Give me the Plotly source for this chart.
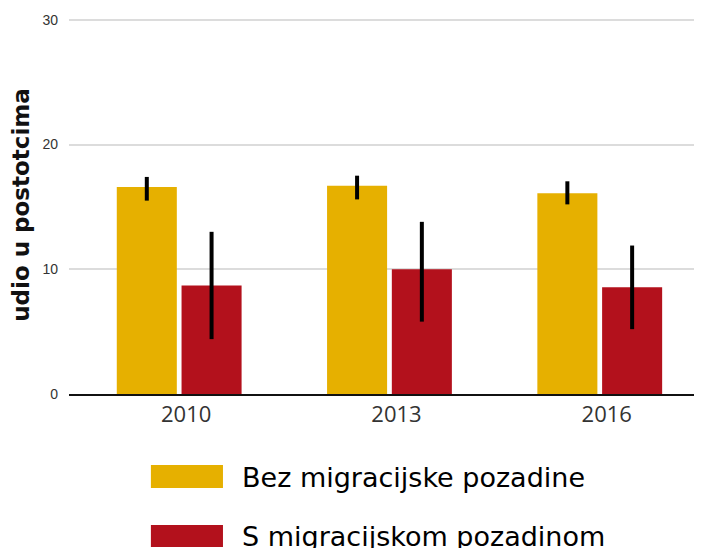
import plotly.graph_objects as go

years = ["2010", "2013", "2016"]
bez_values = [16.6, 16.7, 16.1]
bez_low = [15.5, 15.6, 15.2]
bez_high = [17.4, 17.5, 17.05]
s_values = [8.7, 10.0, 8.55]
s_low = [4.4, 5.8, 5.2]
s_high = [13.0, 13.8, 11.9]
series_names = ["Bez migracijske pozadine", "S migracijskom pozadinom"]
series_colors = ["#E6B000", "#B3111C"]


def make_bar(name, values, low, high, color):
    return go.Bar(
        x=years,
        y=values,
        name=name,
        marker_color=color,
        marker_line_width=0,
        error_y=dict(
            type="data",
            symmetric=False,
            array=[h - v for h, v in zip(high, values)],
            arrayminus=[v - l for v, l in zip(values, low)],
            color="black",
            thickness=4,
            width=0,
        ),
        showlegend=False,
    )


fig = go.Figure(
    data=[
        make_bar(series_names[0], bez_values, bez_low, bez_high, series_colors[0]),
        make_bar(series_names[1], s_values, s_low, s_high, series_colors[1]),
    ]
)

# the page body adds an 8px margin, so the figure is 8px smaller each way
fig.update_layout(
    width=694,
    height=540,
    margin=dict(l=61, r=3, t=8, b=154),
    paper_bgcolor="white",
    plot_bgcolor="white",
    barmode="group",
    bargap=0.384,
    bargroupgap=0.073,
    font=dict(family="Liberation Sans, Arial, sans-serif", color="#222"),
)

fig.update_xaxes(
    type="category",
    range=[-0.524, 2.472],
    showline=True,
    linecolor="#111",
    linewidth=2,
    showgrid=False,
    ticks="",
    ticklabelshift=7,
    tickfont=dict(family="Open Sans, sans-serif", size=22, color="#333"),
)

fig.update_yaxes(
    range=[0, 30.3],
    tickvals=[0, 10, 20, 30],
    showgrid=True,
    gridcolor="#dcdcdc",
    gridwidth=2,
    zeroline=False,
    showline=False,
    ticks="",
    ticklabelstandoff=10,
    tickfont=dict(size=14, color="#333"),
    title=dict(
        text="<b>udio u postotcima</b>",
        font=dict(family="DejaVu Sans, sans-serif", size=23, color="#111"),
        standoff=8,
    ),
)

# legend drawn below the plot with wide colour swatches
legend_rows = [(-0.2487, -0.1878, -0.2196), (-0.4048, -0.3466, -0.3757)]
for name, color, (y0, y1, ytext) in zip(series_names, series_colors, legend_rows):
    fig.add_shape(
        type="rect",
        xref="paper",
        yref="paper",
        x0=0.130,
        x1=0.2444,
        y0=y0,
        y1=y1,
        fillcolor=color,
        line_width=0,
    )
    fig.add_annotation(
        text=name,
        xref="paper",
        yref="paper",
        x=0.2714,
        y=ytext,
        xanchor="left",
        yanchor="middle",
        showarrow=False,
        font=dict(family="DejaVu Sans, sans-serif", size=27, color="black"),
    )

fig.write_html("out.html")
